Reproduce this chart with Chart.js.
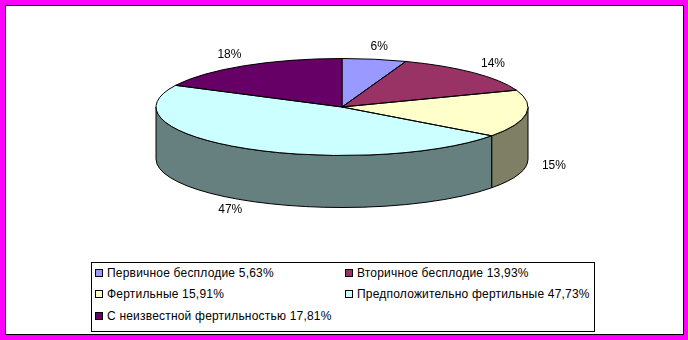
<!DOCTYPE html>
<html>
<head>
<meta charset="utf-8">
<script src="https://cdn.jsdelivr.net/npm/chart.js@4.4.0/dist/chart.umd.min.js"></script>
<style>
  body { margin: 0; background: #ff00ff; width: 688px; height: 340px; overflow: hidden; }
  #frame { position: absolute; left: 5px; top: 5px; width: 677px; height: 328px; background: #fff; border: 1px solid #000; }
  #pie { position: absolute; left: 0; top: 0; }
  #legend { position: absolute; left: 91px; top: 262px; width: 502px; height: 68px; border: 1px solid #000; background: #fff;
            font: 12px "Liberation Sans", Arial, sans-serif; letter-spacing: 0.2px; color: #000; }
  .item { position: absolute; height: 14px; line-height: 14px; white-space: nowrap; }
  .item i { position: absolute; left: 0; top: 3px; width: 6px; height: 6px; border: 1px solid #000; }
  .item span { position: absolute; left: 12px; top: 0; }
</style>
</head>
<body>
<div id="frame"></div>
<canvas id="pie" width="688" height="340"></canvas>
<div id="legend"></div>
<script>
// доли групп, %
const categories = ["Первичное бесплодие", "Вторичное бесплодие", "Фертильные",
  "Предположительно фертильные", "С неизвестной фертильностью"];
const shares = [5.63, 13.93, 15.91, 47.73, 17.81];
const pieLabels = ["6%", "14%", "15%", "47%", "18%"];
const colours = ["#9999FF", "#993366", "#FFFFCC", "#CCFFFF", "#660066"];

const squash = 48.5 / 186; // высота эллипса к ширине
const depth = 52;          // толщина "таблетки"

// боковая стенка - тот же цвет, но вдвое темнее
function darker(hex) {
  const n = parseInt(hex.slice(1), 16);
  const r = ((n >> 16) & 255) >> 1, g = ((n >> 8) & 255) >> 1, b = (n & 255) >> 1;
  return "rgb(" + r + "," + g + "," + b + ")";
}

const pie3d = {
  id: "pie3d",
  beforeDatasetsDraw(chart) {
    const ctx = chart.ctx;
    const arcs = chart.getDatasetMeta(0).data;
    const cx = arcs[0].x, cy = arcs[0].y, rx = arcs[0].outerRadius;
    const ry = rx * squash;

    // видимая (передняя) часть боковой стенки
    ctx.save();
    ctx.lineWidth = 1;
    ctx.strokeStyle = "#000";
    arcs.forEach((arc, i) => {
      const a0 = Math.max(arc.startAngle, 0);
      const a1 = Math.min(arc.endAngle, Math.PI);
      if (a1 <= a0) return;
      ctx.beginPath();
      ctx.ellipse(cx, cy, rx, ry, 0, a0, a1);
      ctx.ellipse(cx, cy + depth, rx, ry, 0, a1, a0, true);
      ctx.closePath();
      ctx.fillStyle = darker(colours[i]);
      ctx.fill();
      ctx.stroke();
    });
    ctx.restore();

    // сплющиваем круг в верхнюю крышку
    ctx.save();
    ctx.translate(cx, cy);
    ctx.scale(1, squash);
    ctx.translate(-cx, -cy);
  },
  afterDatasetsDraw(chart) {
    const ctx = chart.ctx;
    ctx.restore();
    const arcs = chart.getDatasetMeta(0).data;
    const cx = arcs[0].x, cy = arcs[0].y, rx = arcs[0].outerRadius;
    const ry = rx * squash;

    ctx.save();
    ctx.lineWidth = 1;
    ctx.strokeStyle = "#000";
    arcs.forEach((arc) => {
      ctx.beginPath();
      ctx.moveTo(cx, cy);
      ctx.ellipse(cx, cy, rx, ry, 0, arc.startAngle, arc.endAngle);
      ctx.closePath();
      ctx.stroke();
    });

    // подписи процентов
    ctx.fillStyle = "#000";
    ctx.font = '12px "Liberation Sans", Arial, sans-serif';
    ctx.textAlign = "center";
    ctx.textBaseline = "middle";
    arcs.forEach((arc, i) => {
      const m = (arc.startAngle + arc.endAngle) / 2;
      const x = cx + (rx + 28) * Math.cos(m);
      const y = cy + (ry + 13) * Math.sin(m) + (Math.sin(m) > 0 ? depth - 2 : 0);
      ctx.fillText(pieLabels[i], x, y);
    });
    ctx.restore();
  }
};

new Chart(document.getElementById("pie"), {
  type: "pie",
  data: {
    labels: categories,
    datasets: [{
      data: shares,
      backgroundColor: colours,
      borderWidth: 0,
      radius: 186,
      clip: false
    }]
  },
  options: {
    responsive: false,
    animation: false,
    events: [],
    layout: { padding: { left: 0, right: 4, top: 0, bottom: 126 } },
    plugins: { legend: { display: false }, tooltip: { enabled: false } }
  },
  plugins: [pie3d]
});

// легенда в две колонки
const legend = document.getElementById("legend");
categories.forEach((name, i) => {
  const item = document.createElement("div");
  item.className = "item";
  item.style.left = (i % 2 ? 253 : 3) + "px";
  item.style.top = [3, 24, 46][Math.floor(i / 2)] + "px";
  const box = document.createElement("i");
  box.style.background = colours[i];
  const text = document.createElement("span");
  text.textContent = name + " " + shares[i].toFixed(2).replace(".", ",") + "%";
  item.appendChild(box);
  item.appendChild(text);
  legend.appendChild(item);
});
</script>
</body>
</html>
